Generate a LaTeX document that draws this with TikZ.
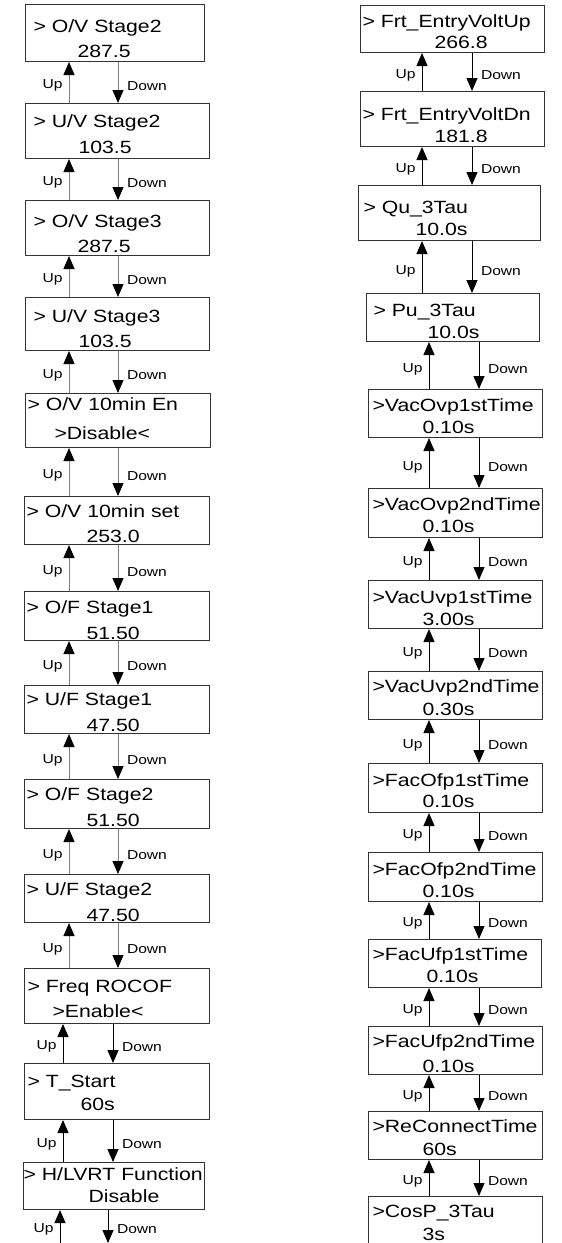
\documentclass[tikz,border=0pt]{standalone}
\usepackage{fontspec}
\setmainfont{Liberation Sans}[FakeStretch=1.2]
\usetikzlibrary{arrows.meta}

\begin{document}
\begin{tikzpicture}[
      x=1pt, y=-1pt,
      menu/.style={rectangle, draw=black!80, line width=1pt, anchor=north west, inner xsep=0pt, inner ysep=0pt, align=left, font=\fontsize{17.7}{25.5}\selectfont},
      rmenu/.style={menu, font=\fontsize{17.7}{21.5}\selectfont},
      link/.style={line width=1pt, -{Triangle[length=13pt, width=11pt, color=black]}},
      glink/.style={link, draw=black!50},
      uplab/.style={pos=0.42, left, inner xsep=6pt, font=\fontsize{13}{15}\selectfont},
      dnlab/.style={pos=0.58, right, inner xsep=8.5pt, font=\fontsize{13}{15}\selectfont}
    ]
    \useasboundingbox (0,0) rectangle (562,1243);

    \coordinate (upL) at (69,0);
    \coordinate (dnL) at (118,0);
    \coordinate (upL2) at (63,0);
    \coordinate (dnL2) at (113,0);
    \coordinate (upL3) at (60,0);
    \coordinate (dnL3) at (108,0);
    \coordinate (upR) at (422,0);
    \coordinate (dnR) at (472,0);
    \coordinate (upR2) at (429,0);
    \coordinate (dnR2) at (479,0);
    \coordinate (botL) at (0,1243);

    % left column
    \node[menu, text width=179pt, text height=27.5pt, text depth=29.5pt] (ovs2) at (25,4) {\hspace*{8pt}> O/V Stage2\\ \hspace*{52pt}287.5};
    \node[menu, text width=184pt, text height=24pt, text depth=31pt] (uvs2) at (25,103) {\hspace*{8pt}> U/V Stage2\\ \hspace*{53pt}103.5};
    \node[menu, text width=184pt, text height=26.5pt, text depth=28.5pt] (ovs3) at (25,200) {\hspace*{8pt}> O/V Stage3\\ \hspace*{52pt}287.5};
    \node[menu, text width=184pt, text height=24.5pt, text depth=28.5pt] (uvs3) at (25,297) {\hspace*{8pt}> U/V Stage3\\ \hspace*{53pt}103.5};
    \node[menu, text width=185pt, text height=17pt, text depth=37pt] (ov10en) at (25,393) {\hspace*{2pt}> O/V 10min En\\[3.5pt] \hspace*{29pt}>Disable<};
    \node[menu, text width=185pt, text height=20.7pt, text depth=27.3pt] (ov10set) at (24,496) {\hspace*{2pt}> O/V 10min set\\ \hspace*{62pt}253.0};
    \node[menu, text width=185pt, text height=22.3pt, text depth=26.7pt] (ofs1) at (24,591) {\hspace*{2pt}> O/F Stage1\\ \hspace*{62pt}51.50};
    \node[menu, text width=185pt, text height=20pt, text depth=28pt] (ufs1) at (24,685) {\hspace*{2pt}> U/F Stage1\\ \hspace*{62pt}47.50};
    \node[menu, text width=185pt, text height=21pt, text depth=28pt] (ofs2) at (24,779) {\hspace*{2pt}> O/F Stage2\\ \hspace*{62pt}51.50};
    \node[menu, text width=185pt, text height=21pt, text depth=27pt] (ufs2) at (24,874) {\hspace*{2pt}> U/F Stage2\\ \hspace*{62pt}47.50};
    \node[menu, text width=185pt, text height=23.7pt, text depth=31.3pt] (rocof) at (24,968) {\hspace*{3pt}> Freq ROCOF\\ \hspace*{28pt}>Enable<};
    \node[menu, text width=185pt, text height=23.7pt, text depth=32.3pt] (tstart) at (24,1063) {\hspace*{3pt}> T\_Start\\[-2pt] \hspace*{56pt}60s};
    \node[menu, text width=181pt, text height=18pt, text depth=29pt] (hlvrt) at (23,1162) {\mbox{> H/LVRT Function}\\[-4pt] \hspace*{65pt}Disable};

    % right column
    \node[rmenu, text width=184pt, text height=21.7pt, text depth=25.3pt] (frtup) at (360,5) {\hspace*{2pt}> Frt\_EntryVoltUp\\ \hspace*{74pt}266.8};
    \node[rmenu, text width=184pt, text height=29pt, text depth=26pt] (frtdn) at (360,91) {\hspace*{2pt}> Frt\_EntryVoltDn\\ \hspace*{74pt}181.8};
    \node[rmenu, text width=182pt, text height=28.3pt, text depth=26.7pt] (qutau) at (358,185) {\hspace*{5pt}> Qu\_3Tau\\ \hspace*{57pt}10.0s};
    \node[rmenu, text width=173pt, text height=23pt, text depth=25pt] (putau) at (366,293) {\hspace*{7pt}> Pu\_3Tau\\ \hspace*{61pt}10.0s};
    \node[rmenu, text width=174pt, text height=22pt, text depth=26pt] (ovp1) at (368,389) {\hspace*{4pt}>VacOvp1stTime\\ \hspace*{54pt}0.10s};
    \node[rmenu, text width=174pt, text height=22pt, text depth=27pt] (ovp2) at (368,488) {\hspace*{4pt}>VacOvp2ndTime\\ \hspace*{54pt}0.10s};
    \node[rmenu, text width=174pt, text height=23.3pt, text depth=24.7pt] (uvp1) at (368,580) {\hspace*{4pt}>VacUvp1stTime\\ \hspace*{54pt}3.00s};
    \node[rmenu, text width=174pt, text height=20.7pt, text depth=27.3pt] (uvp2) at (368,671) {\hspace*{4pt}>VacUvp2ndTime\\[2pt] \hspace*{54pt}0.30s};
    \node[rmenu, text width=174pt, text height=22.7pt, text depth=26.3pt] (ofp1) at (368,763) {\hspace*{4pt}>FacOfp1stTime\\ \hspace*{54pt}0.10s};
    \node[rmenu, text width=174pt, text height=23pt, text depth=26pt] (ofp2) at (368,852) {\hspace*{4pt}>FacOfp2ndTime\\ \hspace*{54pt}0.10s};
    \node[rmenu, text width=173pt, text height=21pt, text depth=27pt] (ufp1) at (368,939) {\hspace*{4pt}>FacUfp1stTime\\ \hspace*{58pt}0.10s};
    \node[rmenu, text width=174pt, text height=21.3pt, text depth=26.7pt] (ufp2) at (368,1026) {\hspace*{4pt}>FacUfp2ndTime\\[3pt] \hspace*{54pt}0.10s};
    \node[rmenu, text width=174pt, text height=20.7pt, text depth=27.3pt] (reconn) at (368,1111) {\hspace*{4pt}>ReConnectTime\\[2pt] \hspace*{54pt}60s};
    \node[rmenu, text width=174pt, text height=20.7pt, text depth=33.3pt] (cosp) at (368,1196) {\hspace*{4pt}>CosP\_3Tau\\[2pt] \hspace*{54pt}3s};

    % left column links
    \draw[glink] (uvs2.north -| upL) -- node[uplab] {Up} (ovs2.south -| upL);
    \draw[glink] (ovs2.south -| dnL) -- node[dnlab] {Down} (uvs2.north -| dnL);
    \draw[glink] (ovs3.north -| upL) -- node[uplab] {Up} (uvs2.south -| upL);
    \draw[glink] (uvs2.south -| dnL) -- node[dnlab] {Down} (ovs3.north -| dnL);
    \draw[glink] (uvs3.north -| upL) -- node[uplab] {Up} (ovs3.south -| upL);
    \draw[glink] (ovs3.south -| dnL) -- node[dnlab] {Down} (uvs3.north -| dnL);
    \draw[glink] (ov10en.north -| upL) -- node[uplab] {Up} (uvs3.south -| upL);
    \draw[glink] (uvs3.south -| dnL) -- node[dnlab] {Down} (ov10en.north -| dnL);
    \draw[glink] (ov10set.north -| upL) -- node[uplab] {Up} (ov10en.south -| upL);
    \draw[glink] (ov10en.south -| dnL) -- node[dnlab] {Down} (ov10set.north -| dnL);
    \draw[glink] (ofs1.north -| upL) -- node[uplab] {Up} (ov10set.south -| upL);
    \draw[glink] (ov10set.south -| dnL) -- node[dnlab] {Down} (ofs1.north -| dnL);
    \draw[glink] (ufs1.north -| upL) -- node[uplab] {Up} (ofs1.south -| upL);
    \draw[glink] (ofs1.south -| dnL) -- node[dnlab] {Down} (ufs1.north -| dnL);
    \draw[glink] (ofs2.north -| upL) -- node[uplab] {Up} (ufs1.south -| upL);
    \draw[glink] (ufs1.south -| dnL) -- node[dnlab] {Down} (ofs2.north -| dnL);
    \draw[glink] (ufs2.north -| upL) -- node[uplab] {Up} (ofs2.south -| upL);
    \draw[glink] (ofs2.south -| dnL) -- node[dnlab] {Down} (ufs2.north -| dnL);
    \draw[glink] (rocof.north -| upL) -- node[uplab] {Up} (ufs2.south -| upL);
    \draw[glink] (ufs2.south -| dnL) -- node[dnlab] {Down} (rocof.north -| dnL);
    \draw[link] (tstart.north -| upL2) -- node[uplab] {Up} (rocof.south -| upL2);
    \draw[link] (rocof.south -| dnL2) -- node[dnlab] {Down} (tstart.north -| dnL2);
    \draw[link] (hlvrt.north -| upL2) -- node[uplab] {Up} (tstart.south -| upL2);
    \draw[link] (tstart.south -| dnL2) -- node[dnlab] {Down} (hlvrt.north -| dnL2);
    \draw[link] (botL -| upL3) -- node[uplab] {Up} (hlvrt.south -| upL3);
    \draw[link] (hlvrt.south -| dnL3) -- node[dnlab] {Down} (botL -| dnL3);

    % right column links
    \draw[link] (frtdn.north -| upR) -- node[uplab] {Up} (frtup.south -| upR);
    \draw[link] (frtup.south -| dnR) -- node[dnlab] {Down} (frtdn.north -| dnR);
    \draw[link] (qutau.north -| upR) -- node[uplab] {Up} (frtdn.south -| upR);
    \draw[link] (frtdn.south -| dnR) -- node[dnlab] {Down} (qutau.north -| dnR);
    \draw[link] (putau.north -| upR) -- node[uplab] {Up} (qutau.south -| upR);
    \draw[link] (qutau.south -| dnR) -- node[dnlab] {Down} (putau.north -| dnR);
    \draw[link] (ovp1.north -| upR2) -- node[uplab] {Up} (putau.south -| upR2);
    \draw[link] (putau.south -| dnR2) -- node[dnlab] {Down} (ovp1.north -| dnR2);
    \draw[link] (ovp2.north -| upR2) -- node[uplab] {Up} (ovp1.south -| upR2);
    \draw[link] (ovp1.south -| dnR2) -- node[dnlab] {Down} (ovp2.north -| dnR2);
    \draw[link] (uvp1.north -| upR2) -- node[uplab] {Up} (ovp2.south -| upR2);
    \draw[link] (ovp2.south -| dnR2) -- node[dnlab] {Down} (uvp1.north -| dnR2);
    \draw[link] (uvp2.north -| upR2) -- node[uplab] {Up} (uvp1.south -| upR2);
    \draw[link] (uvp1.south -| dnR2) -- node[dnlab] {Down} (uvp2.north -| dnR2);
    \draw[link] (ofp1.north -| upR2) -- node[uplab] {Up} (uvp2.south -| upR2);
    \draw[link] (uvp2.south -| dnR2) -- node[dnlab] {Down} (ofp1.north -| dnR2);
    \draw[link] (ofp2.north -| upR2) -- node[uplab] {Up} (ofp1.south -| upR2);
    \draw[link] (ofp1.south -| dnR2) -- node[dnlab] {Down} (ofp2.north -| dnR2);
    \draw[link] (ufp1.north -| upR2) -- node[uplab] {Up} (ofp2.south -| upR2);
    \draw[link] (ofp2.south -| dnR2) -- node[dnlab] {Down} (ufp1.north -| dnR2);
    \draw[link] (ufp2.north -| upR2) -- node[uplab] {Up} (ufp1.south -| upR2);
    \draw[link] (ufp1.south -| dnR2) -- node[dnlab] {Down} (ufp2.north -| dnR2);
    \draw[link] (reconn.north -| upR2) -- node[uplab] {Up} (ufp2.south -| upR2);
    \draw[link] (ufp2.south -| dnR2) -- node[dnlab] {Down} (reconn.north -| dnR2);
    \draw[link] (cosp.north -| upR2) -- node[uplab] {Up} (reconn.south -| upR2);
    \draw[link] (reconn.south -| dnR2) -- node[dnlab] {Down} (cosp.north -| dnR2);

  \end{tikzpicture}
\end{document}
